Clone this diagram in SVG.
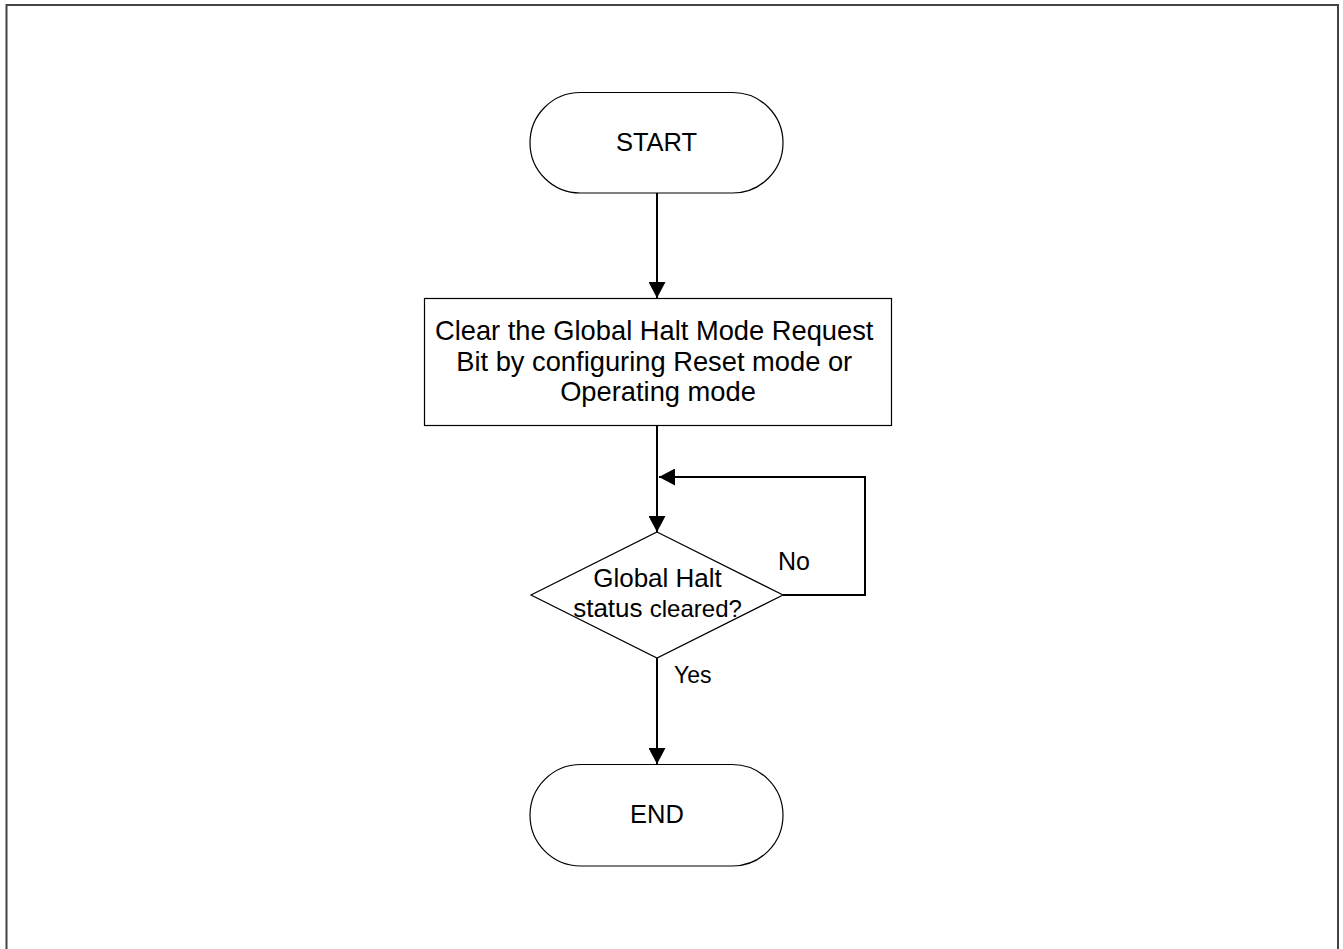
<svg xmlns="http://www.w3.org/2000/svg" width="1343" height="949" viewBox="0 0 1343 949">
<style>
.shape{fill:#fff;stroke:#000;stroke-width:1.2}
.conn{fill:none;stroke:#000;stroke-width:2}
text{font-family:"Liberation Sans",Arial,sans-serif;fill:#000}
</style>
<defs>
<marker id="arr" markerWidth="17" markerHeight="17" refX="16" refY="8.5" orient="auto" markerUnits="userSpaceOnUse">
<path d="M0,0 L16,8.5 L0,17 Z" fill="#000"/>
</marker>
</defs>
<rect x="0" y="0" width="1343" height="949" fill="#fff"/>
<rect x="6.5" y="5" width="1331.5" height="960" fill="none" stroke="#444" stroke-width="2"/>
<g id="connectors">
<line class="conn" x1="657" y1="193" x2="657" y2="298" marker-end="url(#arr)"/>
<line class="conn" x1="657" y1="426" x2="657" y2="532" marker-end="url(#arr)"/>
<polyline class="conn" points="783,595 865,595 865,477 659,477" marker-end="url(#arr)"/>
<line class="conn" x1="657" y1="658" x2="657" y2="764" marker-end="url(#arr)"/>
<text x="778" y="570" font-size="25">No</text>
<text x="674" y="683" font-size="23">Yes</text>
</g>
<g id="start">
<rect class="shape" x="530" y="92.5" width="253" height="100.5" rx="50.25" ry="50.25"/>
<text x="656.5" y="151" font-size="25.5" text-anchor="middle">START</text>
</g>
<g id="process">
<rect class="shape" x="424.5" y="298.5" width="467" height="127"/>
<text font-size="27.3" text-anchor="middle">
<tspan x="658" y="339.5">Clear the Global Halt Mode Request</tspan>
<tspan x="658" y="370.5">Bit by configuring Reset mode or</tspan>
<tspan x="658" y="401">Operating mode</tspan>
</text>
</g>
<g id="decision">
<polygon class="shape" points="657,532 783,595 657,658 531,595"/>
<text x="657.5" y="587" font-size="26" text-anchor="middle">Global Halt</text>
<text x="657.5" y="617" text-anchor="middle"><tspan font-size="26">status </tspan><tspan font-size="24">cleared?</tspan></text>
</g>
<g id="end">
<rect class="shape" x="530" y="764.5" width="253" height="101.5" rx="50.75" ry="50.75"/>
<text x="657" y="823" font-size="25.5" text-anchor="middle">END</text>
</g>
</svg>
